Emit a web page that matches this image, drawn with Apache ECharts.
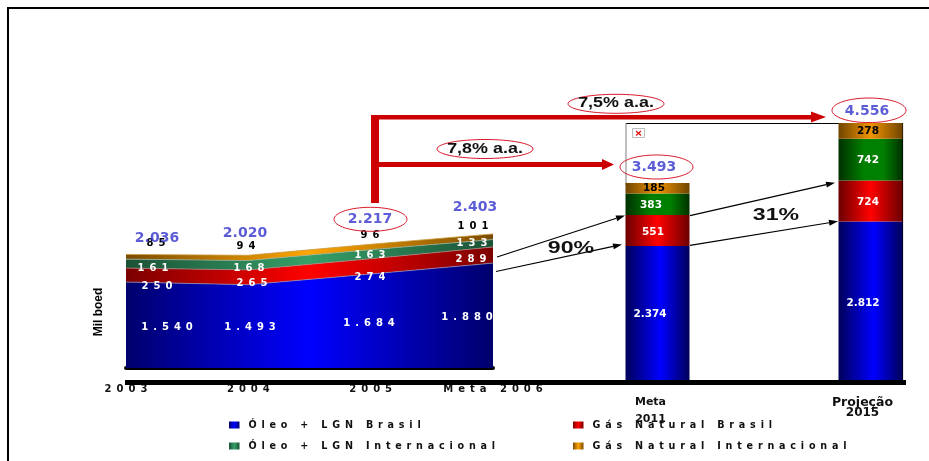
<!DOCTYPE html>
<html>
<head>
<meta charset="utf-8">
<style>html,body{margin:0;padding:0;background:#fff}#c{width:929px;height:461px}</style>
<script src="https://cdn.jsdelivr.net/npm/echarts@6/dist/echarts.min.js"></script>
</head>
<body>
<div id="c"></div>
<script>
// Production history and targets (Mil boed)
const historyYears = ['2003', '2004', '2005', 'Meta 2006'];
const oilBrazil = [1540, 1493, 1684, 1880];
const gasBrazil = [250, 265, 274, 289];
const oilIntl = [161, 168, 163, 133];
const gasIntl = [85, 94, 96, 101];
const historyTotals = [2036, 2020, 2217, 2403];

const targetYears = ['Meta\n2011', 'Projeção\n2015'];
const targetOilBrazil = [2374, 2812];
const targetGasBrazil = [551, 724];
const targetOilIntl = [383, 742];
const targetGasIntl = [185, 278];
const targetTotals = [3493, 4556];

const seriesNames = ['Óleo + LGN Brasil', 'Gás Natural Brasil', 'Óleo + LGN Internacional', 'Gás Natural Internacional'];

// Where each value label sits on the page, one row per series, one column per category
const historySpots = [
  [[167, 327], [250, 327], [369, 323], [467, 317]],
  [[157, 286], [252, 283], [370, 277], [471, 259]],
  [[153, 268], [249, 268], [370, 255], [472, 243]],
  [[156, 243], [246, 246], [370, 235], [473, 226]]
];
const historyTotalSpots = [[157, 238], [245, 233], [370, 219], [475, 207]];
const targetSpots = [
  [[650, 314], [863, 303]],
  [[653, 232], [868, 202]],
  [[651, 205], [868, 160]],
  [[654, 188], [868, 131]]
];
const targetTotalSpots = [[654, 167], [867, 111]];

const wide = size => ({ fontFamily: 'DejaVu Sans', fontWeight: 'bold', fontSize: size });
const fmt = v => String(v).replace(/\B(?=(\d{3})+$)/g, '.');
const spaced = (s, gap) => [...s].join(gap || '\u2002');

const sweep = stops => ({
  type: 'linear', x: 0, y: 0, x2: 1, y2: 0,
  colorStops: stops.map(([offset, color]) => ({ offset, color }))
});
const areaFill = [
  sweep([[0, '#00006c'], [0.5, '#0000ff'], [1, '#00006c']]),
  sweep([[0, '#7c0000'], [0.5, '#ff0000'], [1, '#7c0000']]),
  sweep([[0, '#1b5236'], [0.5, '#36a068'], [1, '#1b5236']]),
  sweep([[0, '#7a4c00'], [0.5, '#ffa500'], [1, '#7a4c00']])
];
const barFill = [
  sweep([[0, '#00005a'], [0.55, '#0000ff'], [1, '#00005a']]),
  sweep([[0, '#6c0000'], [0.5, '#ff0000'], [1, '#6c0000']]),
  sweep([[0, '#003000'], [0.4, '#008000'], [0.7, '#008000'], [1, '#003000']]),
  sweep([[0, '#704400'], [0.5, '#f09400'], [1, '#704400']])
];
const edgeColor = ['#8c8cb4', '#b08080', '#8fae9e', '#c89a40'];
const labelColor = ['#fff', '#fff', '#fff', '#000'];

const historyValues = [oilBrazil, gasBrazil, oilIntl, gasIntl];
const targetValues = [targetOilBrazil, targetGasBrazil, targetOilIntl, targetGasIntl];

const chart = echarts.init(document.getElementById('c'), null, { renderer: 'canvas' });

const hidden = { show: false };
const areaSeries = seriesNames.map((name, s) => ({
  name, type: 'line', stack: 'history', xAxisIndex: 0, yAxisIndex: 0,
  data: historyValues[s], symbol: 'circle', symbolSize: 1, showSymbol: true, clip: false, z: 3,
  itemStyle: { color: 'transparent', borderWidth: 0 },
  lineStyle: { color: edgeColor[s], width: 0.8 },
  areaStyle: { color: areaFill[s], opacity: 1 },
  label: {
    show: true, position: 'inside', color: labelColor[s], ...wide(10),
    formatter: p => spaced(fmt(p.value))
  }
}));
const barSeries = seriesNames.map((name, s) => ({
  name, type: 'bar', stack: 'target', xAxisIndex: 1, yAxisIndex: 1,
  data: targetValues[s], barWidth: 64, z: 3, clip: false,
  itemStyle: { color: barFill[s] },
  label: {
    show: true, position: 'inside', color: labelColor[s], ...wide(10.5),
    formatter: p => fmt(p.value)
  }
}));
const totalsStyle = { color: 'transparent', borderWidth: 0 };
const totalLabel = {
  show: true, position: 'inside', color: '#3333cc', ...wide(14),
  formatter: p => fmt(p.value[1])
};
const historyTotalSeries = {
  name: 'Total', type: 'scatter', xAxisIndex: 0, yAxisIndex: 0, symbolSize: 1, clip: false, z: 5,
  itemStyle: totalsStyle, label: totalLabel, data: historyTotals.map((v, i) => [i, v])
};
const targetTotalSeries = {
  name: 'Total', type: 'scatter', xAxisIndex: 1, yAxisIndex: 1, symbolSize: 1, clip: false, z: 5,
  itemStyle: totalsStyle, label: totalLabel, data: targetTotals.map((v, i) => [i, v])
};

// Annotation helpers
const RED = '#cc0000';
const ring = (cx, cy, rx, ry) => ({
  type: 'ellipse', shape: { cx, cy, rx, ry }, z: 20, silent: true,
  style: { fill: 'transparent', stroke: '#d8182c', lineWidth: 1 }
});
const stretched = (text, x, y, size, scaleX) => ({
  type: 'text', x, y, scaleX, z: 30, silent: true,
  style: { text, font: 'bold ' + size + 'px "Liberation Sans"', fill: '#111', align: 'center', verticalAlign: 'middle' }
});
const rule = (x1, y1, x2, y2, stroke, lineWidth, z, cap) => ({
  type: 'line', shape: { x1, y1, x2, y2 }, z: z, silent: true,
  style: { stroke, lineWidth, lineCap: cap || 'butt' }
});
const thinArrow = (x1, y1, x2, y2) => {
  const a = Math.atan2(y2 - y1, x2 - x1), len = 9, half = 3;
  const bx = x2 - len * Math.cos(a), by = y2 - len * Math.sin(a);
  const nx = -Math.sin(a) * half, ny = Math.cos(a) * half;
  return [
    rule(x1, y1, bx, by, '#000', 1.2, 25),
    { type: 'polygon', z: 25, silent: true, style: { fill: '#000' },
      shape: { points: [[x2, y2], [bx + nx, by + ny], [bx - nx, by - ny]] } }
  ];
};
const redHead = (tipX, backX, cy, half) => ({
  type: 'polygon', z: 22, silent: true, style: { fill: RED },
  shape: { points: [[tipX, cy], [backX, cy - half], [backX, cy + half]] }
});

const annotations = [
  // page frame
  rule(7, 8, 929, 8, '#000', 2, 0),
  rule(8, 7, 8, 461, '#000', 2, 0),
  // box behind the target columns
  rule(626, 123.5, 903, 123.5, '#000', 1, 1),
  rule(626, 123, 626, 185, '#808080', 1, 1),
  rule(902.5, 123, 902.5, 381, '#000', 1.2, 1),
  { type: 'rect', z: 2, silent: true, shape: { x: 632.5, y: 128.5, width: 12, height: 9 },
    style: { fill: '#fff', stroke: '#bdbdbd', lineWidth: 1 } },
  rule(636, 131, 641, 135.5, '#e01010', 1.2, 3),
  rule(641, 131, 636, 135.5, '#e01010', 1.2, 3),
  // baseline under both blocks
  { type: 'rect', z: 15, silent: true, shape: { x: 125, y: 380, width: 781, height: 5 }, style: { fill: '#000' } },
  // growth-rate arrows
  { type: 'rect', z: 22, silent: true, shape: { x: 371, y: 115, width: 8, height: 88 }, style: { fill: RED } },
  { type: 'rect', z: 22, silent: true, shape: { x: 371, y: 115, width: 441, height: 4.5 }, style: { fill: RED } },
  redHead(826, 811, 117, 5.5),
  { type: 'rect', z: 22, silent: true, shape: { x: 375, y: 162, width: 228, height: 5 }, style: { fill: RED } },
  redHead(614, 602, 164.5, 5.5),
  ring(370.5, 219.3, 36.5, 12),
  ring(656.5, 167, 36.5, 12),
  ring(869, 110.3, 37, 12.3),
  ring(616, 103.8, 48, 9.5),
  ring(485, 149, 48, 9.5),
  stretched('7,5% a.a.', 616, 103.5, 14, 1.28),
  stretched('7,8% a.a.', 485, 149.5, 14, 1.28),
  stretched('90%', 571, 248, 17, 1.36),
  stretched('31%', 776, 215, 17, 1.36),
  { type: 'text', x: 99, y: 312, rotation: Math.PI / 2, z: 30, silent: true,
    style: { text: 'Mil boed', font: 'bold 12px "Liberation Sans"', fill: '#000', align: 'center', verticalAlign: 'middle' } },
  ...thinArrow(497, 257, 625, 215.5),
  ...thinArrow(496, 271.5, 622, 244.5),
  ...thinArrow(690, 215.7, 835, 182.7),
  ...thinArrow(690, 245.3, 838, 221.3)
];

const legendSpots = [[229, 420], [573, 420], [229, 441], [573, 441]];
const legends = seriesNames.map((name, s) => ({
  left: legendSpots[s][0], top: legendSpots[s][1], orient: 'horizontal',
  itemWidth: 10.5, itemHeight: 7, itemGap: 0, padding: 0, selectedMode: false,
  icon: 'rect',
  textStyle: { ...wide(9.6), color: '#111', padding: [0, 0, 0, 4] },
  formatter: n => spaced(n),
  data: [{ name, itemStyle: { color: areaFill[s], borderWidth: 0 } }]
}));

const option = {
  backgroundColor: '#fff',
  animation: false,
  legend: legends,
  graphic: { elements: annotations },
  grid: [
    { left: 126, top: 228.5, width: 367, height: 139.5, containLabel: false },
    { left: 657.5, top: 123, width: 213, height: 257, containLabel: false }
  ],
  xAxis: [
    {
      type: 'category', gridIndex: 0, data: historyYears, boundaryGap: false,
      axisLine: { show: true, onZero: false, lineStyle: { color: '#000', width: 4, cap: 'round' } },
      axisTick: hidden, splitLine: hidden,
      axisLabel: { interval: 0, margin: 16, color: '#111', ...wide(10), formatter: v => spaced(v), hideOverlap: false,
        showMinLabel: true, showMaxLabel: true, alignMinLabel: 'center', alignMaxLabel: 'center' }
    },
    {
      type: 'category', gridIndex: 1, data: targetYears, boundaryGap: false,
      axisLine: hidden, axisTick: hidden, splitLine: hidden,
      axisLabel: {
        interval: 0, margin: 14, color: '#111', hideOverlap: false,
        showMinLabel: true, showMaxLabel: true, alignMinLabel: 'center', alignMaxLabel: 'center',
        formatter: v => {
          const [head, tail] = v.split('\n');
          return head === 'Meta' ? '{m|' + head + '}\n{m|' + tail + '}' : '{p1|' + head + '}\n{p2|' + tail + '}';
        },
        rich: {
          m: { ...wide(11), lineHeight: 17, color: '#111', padding: [0, 14, 0, 0] },
          p1: { ...wide(12.5), lineHeight: 17, color: '#111', padding: [0, 16, 0, 0] },
          p2: { ...wide(12), lineHeight: 4, color: '#111', padding: [0, 16, 0, 0] }
        }
      }
    }
  ],
  yAxis: [
    { type: 'value', gridIndex: 0, min: 0, max: 2500, show: false },
    { type: 'value', gridIndex: 1, min: 0, max: 4556, show: false }
  ],
  series: [...areaSeries, ...barSeries, historyTotalSeries, targetTotalSeries]
};
chart.setOption(option);

// Move each value label to its spot, measured from the point the scales give for it
const shifted = (axes, point, spot) => {
  const [px, py] = chart.convertToPixel(axes, point);
  return [spot[0] - px, spot[1] - py];
};
const historyAxes = { xAxisIndex: 0, yAxisIndex: 0 };
const targetAxes = { xAxisIndex: 1, yAxisIndex: 1 };
const running = arrs => arrs.map((a, s) => a.map((_, i) => arrs.slice(0, s + 1).reduce((t, b) => t + b[i], 0)));
const historyTops = running(historyValues);
const targetTops = running(targetValues);

chart.setOption({
  series: [
    ...historyValues.map((vals, s) => ({
      data: vals.map((value, i) => ({
        value, label: { offset: shifted(historyAxes, [i, historyTops[s][i]], historySpots[s][i]) }
      }))
    })),
    ...targetValues.map((vals, s) => ({
      data: vals.map((value, i) => ({
        value, label: { offset: shifted(targetAxes, [i, targetTops[s][i] - value / 2], targetSpots[s][i]) }
      }))
    })),
    { data: historyTotals.map((v, i) => ({ value: [i, v], label: { offset: shifted(historyAxes, [i, v], historyTotalSpots[i]) } })) },
    { data: targetTotals.map((v, i) => ({ value: [i, v], label: { offset: shifted(targetAxes, [i, v], targetTotalSpots[i]) } })) }
  ]
});
</script>
</body>
</html>
